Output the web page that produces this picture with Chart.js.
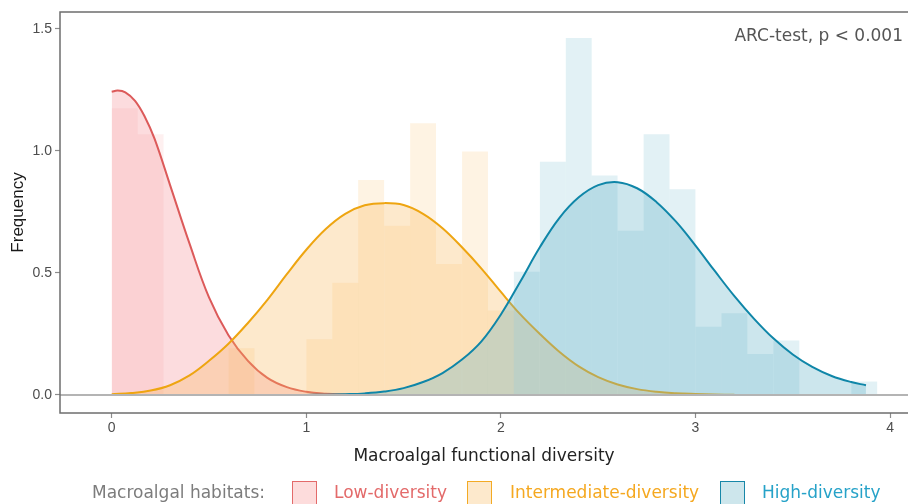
<!DOCTYPE html>
<html>
<head>
<meta charset="utf-8">
<script src="https://cdn.jsdelivr.net/npm/chart.js@4"></script>
<style>
  body { margin: 0; background: #fff; }
  #wrap { position: relative; width: 908px; height: 504px; overflow: hidden; }
  .lg { position: absolute; top: 482px; font: 17px "DejaVu Sans", Verdana, sans-serif; line-height: 20px; white-space: nowrap; }
  .key { position: absolute; top: 481px; width: 23px; height: 22px; border-width: 1.5px; border-style: solid; }
</style>
</head>
<body>
<div id="wrap">
  <canvas id="chart" width="908" height="504"></canvas>
  <span class="lg" style="left:92px;color:#7c7c7c">Macroalgal habitats:</span>
  <span class="key" style="left:292px;border-color:#e36a6a;background:#fddcdc"></span>
  <span class="lg" style="left:334px;color:#e36a6a">Low-diversity</span>
  <span class="key" style="left:467px;border-color:#f3aa24;background:#fde9cc"></span>
  <span class="lg" style="left:510px;color:#f5a820">Intermediate-diversity</span>
  <span class="key" style="left:720px;border-color:#1787a8;background:#cde6ec"></span>
  <span class="lg" style="left:762px;color:#26a2c8">High-diversity</span>
</div>
<script>
// histogram bins (centres) and heights
var lowBins = [0.067, 0.2];
var lowFreq = [1.175, 1.068];

var midBins = [0.667, 0.8, 0.933, 1.067, 1.2, 1.333, 1.467, 1.6, 1.733, 1.867, 2.0];
var midFreq = [0.191, 0, 0, 0.228, 0.46, 0.881, 0.693, 1.113, 0.537, 0.997, 0.346];

var highBins = [2.133, 2.267, 2.4, 2.533, 2.667, 2.8, 2.933, 3.067, 3.2, 3.333, 3.467, 3.6, 3.733, 3.867];
var highFreq = [0.505, 0.956, 1.462, 0.899, 0.673, 1.068, 0.843, 0.28, 0.335, 0.168, 0.223, 0, 0, 0.055];

// density curves
var lowX = [0, 0.03, 0.07, 0.12, 0.17, 0.22, 0.3, 0.4, 0.5, 0.6, 0.7, 0.8, 0.9, 1.0, 1.1, 1.2, 1.3, 1.4, 1.5];
var lowY = [1.242, 1.247, 1.24, 1.205, 1.14, 1.05, 0.86, 0.62, 0.40, 0.245, 0.14, 0.07, 0.032, 0.013, 0.005, 0.002, 0.0006, 0.0002, 0];

var midX = [0, 0.1, 0.2, 0.3, 0.4, 0.5, 0.6, 0.7, 0.8, 0.9, 1.0, 1.1, 1.2, 1.3, 1.4, 1.5, 1.6,
            1.7, 1.8, 1.9, 2.0, 2.1, 2.2, 2.3, 2.4, 2.5, 2.6, 2.7, 2.8, 2.9, 3.0, 3.1, 3.2];
var midY = [0.003, 0.008, 0.018, 0.04, 0.08, 0.14, 0.21, 0.295, 0.39, 0.495, 0.595, 0.68, 0.742, 0.777, 0.786, 0.778, 0.742,
            0.683, 0.605, 0.518, 0.422, 0.33, 0.25, 0.177, 0.117, 0.073, 0.043, 0.024, 0.013, 0.007, 0.004, 0.002, 0.001];

var highX = [1.0, 1.1, 1.2, 1.3, 1.4, 1.5, 1.6, 1.7, 1.8, 1.9, 2.0, 2.1, 2.2, 2.3, 2.4, 2.5, 2.6,
             2.7, 2.8, 2.9, 3.0, 3.1, 3.2, 3.3, 3.4, 3.5, 3.6, 3.7, 3.8, 3.876];
var highY = [0.0004, 0.001, 0.003, 0.0065, 0.014, 0.028, 0.053, 0.09, 0.145, 0.22, 0.33, 0.465, 0.605, 0.725, 0.81, 0.86, 0.872,
             0.847, 0.79, 0.71, 0.612, 0.507, 0.405, 0.313, 0.232, 0.166, 0.115, 0.078, 0.053, 0.04];

var xTicks = [0, 1, 2, 3, 4];
var yTicks = [0, 0.5, 1, 1.5];

function pts(xs, ys) {
    var out = [];
    for (var i = 0; i < xs.length; i++) out.push({ x: xs[i], y: ys[i] });
    return out;
}

var xMin = -0.2657, xMax = 4.092;
var yMin = -0.0738, yMax = 1.569;

var framePlugin = {
    id: 'frame',
    afterDatasetsDraw: function (chart) {
        var ctx = chart.ctx, a = chart.chartArea;
        var y0 = chart.scales.y.getPixelForValue(0);
        ctx.save();
        ctx.strokeStyle = '#b4b4b4';
        ctx.lineWidth = 2;
        ctx.beginPath();
        ctx.moveTo(a.left, y0);
        ctx.lineTo(a.right, y0);
        ctx.stroke();
        ctx.restore();
    },
    afterDraw: function (chart) {
        var ctx = chart.ctx, a = chart.chartArea;
        ctx.save();
        ctx.strokeStyle = '#6e6e6e';
        ctx.lineWidth = 1.5;
        ctx.strokeRect(a.left, a.top, a.right - a.left + 2, a.bottom - a.top);
        ctx.fillStyle = '#555';
        ctx.font = '17px "DejaVu Sans", Verdana, sans-serif';
        ctx.textAlign = 'right';
        ctx.textBaseline = 'middle';
        ctx.fillText('ARC-test, p < 0.001', a.right - 5, a.top + 25);
        ctx.restore();
    }
};

var barStyle = { grouped: false, barPercentage: 1, categoryPercentage: 1, inflateAmount: 0, borderWidth: 0 };
var curveStyle = { type: 'line', xAxisID: 'x', borderWidth: 2, fill: 'origin', pointRadius: 0, tension: 0.4 };

var chart = new Chart(document.getElementById('chart').getContext('2d'), {
    type: 'bar',
    data: {
        datasets: [
            Object.assign({ label: 'High-diversity', data: pts(highX, highY), order: 1,
              borderColor: '#0f86a8', backgroundColor: 'rgba(100,180,200,0.33)' }, curveStyle),
            Object.assign({ label: 'Intermediate-diversity', data: pts(midX, midY), order: 2,
              borderColor: '#eea511', backgroundColor: 'rgba(250,185,90,0.31)' }, curveStyle),
            Object.assign({ label: 'Low-diversity', data: pts(lowX, lowY), order: 3,
              borderColor: '#dc5a5a', backgroundColor: 'rgba(245,130,135,0.28)' }, curveStyle),
            Object.assign({ label: 'low bars', data: pts(lowBins, lowFreq), xAxisID: 'x', order: 6,
              backgroundColor: 'rgba(245,130,135,0.12)' }, barStyle),
            Object.assign({ label: 'mid bars', data: pts(midBins, midFreq), xAxisID: 'x2', order: 5,
              backgroundColor: 'rgba(250,185,90,0.17)' }, barStyle),
            Object.assign({ label: 'high bars', data: pts(highBins, highFreq), xAxisID: 'x2', order: 4,
              backgroundColor: 'rgba(100,180,200,0.19)' }, barStyle)
        ]
    },
    options: {
        responsive: false,
        devicePixelRatio: 1,
        animation: false,
        layout: { padding: { top: 12, left: 0, right: 0, bottom: 0 } },
        plugins: { legend: { display: false }, tooltip: { enabled: false } },
        scales: {
            x: {
                type: 'linear', position: 'bottom', min: xMin, max: xMax, offset: false,
                afterBuildTicks: function (s) { s.ticks = xTicks.map(function (v) { return { value: v }; }); },
                afterFit: function (s) { s.height = 91; },
                ticks: { color: '#4d4d4d', font: { family: '"Liberation Sans", Arial', size: 14 }, padding: 2 },
                grid: { offset: false, drawOnChartArea: false, drawTicks: true, tickLength: 5, tickColor: '#8c8c8c', tickWidth: 1.2 },
                border: { display: false },
                title: { display: true, text: 'Macroalgal functional diversity', color: '#222',
                         font: { family: '"DejaVu Sans", Verdana', size: 17 }, padding: { top: 0, bottom: 37 } }
            },
            x2: { type: 'linear', display: false, min: xMin, max: xMax, offset: false, grid: { offset: false } },
            y: {
                type: 'linear', min: yMin, max: yMax,
                afterBuildTicks: function (s) { s.ticks = yTicks.map(function (v) { return { value: v }; }); },
                afterFit: function (s) { s.width = 60; },
                ticks: { color: '#4d4d4d', font: { family: '"Liberation Sans", Arial', size: 14 }, padding: 3,
                         callback: function (v) { return v.toFixed(1); } },
                grid: { drawOnChartArea: false, drawTicks: true, tickLength: 5, tickColor: '#8c8c8c', tickWidth: 1.2 },
                border: { display: false },
                title: { display: true, text: 'Frequency', color: '#1a1a1a',
                         font: { family: '"Liberation Sans", Arial', size: 17 }, padding: { top: 8, bottom: 0 } }
            }
        }
    },
    plugins: [framePlugin]
});
</script>
</body>
</html>
